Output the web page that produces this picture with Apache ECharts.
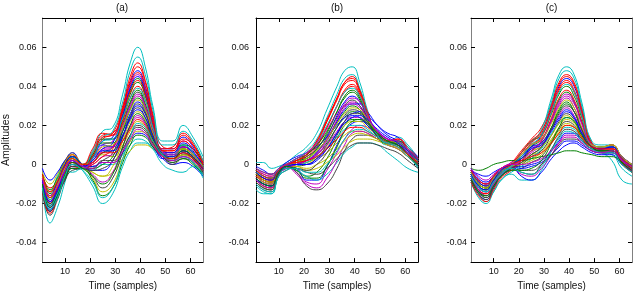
<!DOCTYPE html>
<html>
<head>
<meta charset="utf-8">
<script src="https://cdn.jsdelivr.net/npm/echarts@6/dist/echarts.min.js"></script>
<style>html,body{margin:0;padding:0;background:#fff}#c{width:634px;height:296px}</style>
</head>
<body>
<div id="c"></div>
<script>
// sample positions (time axis) shared by every curve
const sampleX = [1,4,7,10,13,17,21,25,29,33,36,39,42,45,49,53,57,61,65];
const xTicks = [10,20,30,40,50,60];
const yTicks = [-0.04,-0.02,0,0.02,0.04,0.06];
const panelTitles = ['(a)','(b)','(c)'];

// panel (a) curves
const linesA = [
[-0.012,-0.022,-0.014,-0.006,0.000,-0.001,0.004,0.012,0.014,0.028,0.042,0.048,0.040,0.024,0.008,0.008,0.014,0.009,-0.001],
[-0.008,-0.020,-0.012,-0.004,0.001,-0.001,0.001,0.006,0.009,0.023,0.036,0.042,0.035,0.020,0.007,0.006,0.010,0.006,-0.001],
[-0.010,-0.020,-0.012,-0.005,0.003,-0.001,0.005,0.013,0.016,0.030,0.045,0.052,0.043,0.026,0.009,0.008,0.015,0.010,0.000],
[-0.006,-0.014,-0.006,0.002,0.004,0.000,0.007,0.017,0.019,0.036,0.052,0.060,0.050,0.030,0.012,0.012,0.020,0.014,0.004],
[-0.009,-0.019,-0.011,-0.001,0.004,-0.001,0.003,0.010,0.012,0.026,0.040,0.046,0.038,0.022,0.007,0.006,0.012,0.008,0.000],
[-0.004,-0.010,-0.005,0.002,0.006,0.000,0.001,0.005,0.004,0.010,0.017,0.022,0.019,0.011,0.004,0.002,0.005,0.003,-0.002],
[-0.009,-0.018,-0.011,-0.001,0.003,-0.001,-0.001,0.002,0.006,0.019,0.031,0.037,0.030,0.017,0.006,0.005,0.009,0.006,-0.002],
[-0.012,-0.023,-0.015,-0.003,-0.002,-0.002,0.003,0.010,0.009,0.017,0.026,0.032,0.027,0.015,0.003,0.003,0.006,0.003,-0.004],
[-0.006,-0.015,-0.008,0.001,0.004,0.000,0.005,0.013,0.013,0.025,0.038,0.044,0.036,0.020,0.006,0.005,0.010,0.008,0.001],
[-0.005,-0.012,-0.008,0.000,0.005,0.000,0.008,0.016,0.015,0.029,0.043,0.050,0.042,0.025,0.008,0.009,0.016,0.011,0.001],
[-0.009,-0.030,-0.022,-0.009,0.003,-0.003,-0.011,-0.020,-0.015,-0.001,0.007,0.011,0.011,0.008,0.004,0.002,0.004,0.001,-0.006],
[-0.010,-0.021,-0.013,-0.006,0.000,-0.001,0.002,0.008,0.009,0.019,0.029,0.035,0.029,0.016,0.005,0.003,0.007,0.004,-0.003],
[-0.008,-0.018,-0.011,-0.003,0.004,-0.001,-0.004,-0.006,-0.004,0.003,0.007,0.010,0.010,0.008,0.005,0.003,0.005,0.003,-0.003],
[-0.014,-0.026,-0.018,-0.008,-0.003,-0.002,0.001,0.006,0.007,0.015,0.024,0.029,0.024,0.013,0.004,0.002,0.005,0.003,-0.005],
[-0.002,-0.008,-0.004,0.002,0.006,0.000,-0.001,0.001,0.001,0.006,0.012,0.016,0.015,0.009,0.003,0.000,0.001,-0.001,-0.006],
[-0.005,-0.013,-0.007,0.001,0.004,0.000,0.004,0.011,0.011,0.021,0.032,0.038,0.031,0.017,0.005,0.004,0.008,0.005,0.000],
[-0.007,-0.016,-0.009,0.001,0.005,0.000,0.006,0.015,0.016,0.028,0.041,0.047,0.039,0.023,0.007,0.007,0.013,0.010,0.002],
[-0.012,-0.022,-0.015,-0.003,-0.004,-0.002,-0.003,0.000,0.000,0.005,0.010,0.013,0.012,0.008,0.000,-0.003,-0.004,-0.001,-0.007],
[-0.011,-0.022,-0.014,-0.007,-0.001,-0.001,0.000,0.004,0.005,0.012,0.020,0.025,0.021,0.012,0.004,0.001,0.004,0.002,-0.004],
[-0.006,-0.014,-0.008,0.001,0.005,0.000,-0.004,-0.006,-0.001,0.012,0.022,0.027,0.023,0.013,0.005,0.004,0.008,0.005,-0.001],
[-0.013,-0.024,-0.016,-0.008,-0.002,-0.002,-0.002,0.002,0.002,0.008,0.015,0.019,0.017,0.010,0.004,0.000,0.003,0.001,-0.005],
[-0.011,-0.024,-0.016,-0.006,0.002,-0.002,0.002,0.008,0.011,0.025,0.039,0.045,0.037,0.021,0.006,0.006,0.011,0.007,-0.002],
[-0.007,-0.017,-0.010,0.000,0.004,0.000,-0.002,0.000,0.004,0.017,0.028,0.034,0.028,0.016,0.006,0.004,0.008,0.005,-0.001],
[-0.013,-0.025,-0.017,-0.006,-0.001,-0.002,0.000,0.004,0.008,0.022,0.034,0.040,0.033,0.019,0.006,0.005,0.009,0.006,-0.003],
[-0.008,-0.018,-0.010,-0.003,0.004,-0.001,0.006,0.014,0.017,0.032,0.048,0.055,0.046,0.028,0.010,0.010,0.017,0.012,0.002],
[-0.009,-0.019,-0.012,-0.004,0.001,-0.001,-0.005,-0.009,-0.004,0.009,0.019,0.024,0.021,0.013,0.006,0.004,0.007,0.004,-0.002],
[-0.007,-0.017,-0.010,0.000,0.002,-0.001,-0.007,-0.014,-0.010,0.003,0.012,0.017,0.016,0.010,0.005,0.002,0.005,0.002,-0.004],
[-0.010,-0.020,-0.013,-0.006,-0.001,-0.001,-0.006,-0.012,-0.007,0.006,0.015,0.020,0.018,0.011,0.005,0.003,0.006,0.003,-0.003],
[-0.008,-0.016,-0.009,0.000,0.004,0.000,-0.003,-0.003,0.002,0.014,0.024,0.030,0.026,0.015,0.006,0.005,0.009,0.006,0.000],
[-0.010,-0.021,-0.014,-0.007,-0.002,-0.002,-0.008,-0.016,-0.012,0.001,0.010,0.015,0.014,0.009,0.004,0.001,0.003,0.000,-0.005],
[-0.007,-0.017,-0.012,-0.004,0.001,-0.001,0.004,0.014,0.015,0.027,0.037,0.043,0.036,0.021,0.007,0.007,0.012,0.008,0.000],
[-0.011,-0.021,-0.015,-0.005,0.000,-0.002,0.003,0.012,0.013,0.024,0.034,0.039,0.033,0.019,0.006,0.005,0.010,0.006,-0.002],
[-0.009,-0.019,-0.013,-0.003,0.002,-0.001,0.001,0.007,0.009,0.020,0.030,0.036,0.030,0.017,0.006,0.005,0.009,0.005,-0.002],
[-0.006,-0.016,-0.011,-0.002,0.003,0.000,0.002,0.009,0.010,0.019,0.028,0.033,0.028,0.016,0.005,0.004,0.008,0.005,-0.001],
[-0.013,-0.024,-0.017,-0.006,0.000,-0.002,-0.003,-0.002,0.002,0.014,0.025,0.031,0.026,0.015,0.005,0.003,0.007,0.003,-0.004],
[-0.008,-0.019,-0.013,-0.003,0.002,-0.001,0.002,0.007,0.007,0.015,0.023,0.028,0.024,0.014,0.005,0.004,0.007,0.004,-0.002],
[-0.010,-0.022,-0.016,-0.005,0.001,-0.002,-0.006,-0.010,-0.005,0.009,0.020,0.026,0.022,0.013,0.005,0.003,0.007,0.004,-0.003],
[-0.005,-0.014,-0.009,-0.001,0.003,0.000,0.001,0.006,0.006,0.012,0.018,0.023,0.020,0.012,0.004,0.003,0.006,0.003,-0.002],
[-0.012,-0.023,-0.017,-0.006,0.000,-0.003,-0.009,-0.017,-0.012,0.003,0.014,0.021,0.019,0.012,0.005,0.002,0.004,0.001,-0.005],
[-0.007,-0.016,-0.011,-0.003,0.002,-0.001,-0.002,0.001,0.001,0.007,0.013,0.018,0.016,0.010,0.004,0.002,0.004,0.002,-0.003]
];

// panel (b) curves
const linesB = [
[-0.009,-0.012,-0.013,-0.005,-0.002,0.000,0.002,0.006,0.014,0.025,0.032,0.035,0.032,0.024,0.015,0.011,0.010,0.006,0.000],
[-0.008,-0.011,-0.012,-0.005,-0.002,-0.003,-0.006,-0.004,0.003,0.013,0.020,0.023,0.023,0.020,0.015,0.011,0.009,0.005,0.000],
[-0.006,-0.009,-0.010,-0.004,-0.001,0.002,0.005,0.011,0.022,0.034,0.042,0.045,0.038,0.026,0.014,0.011,0.012,0.008,0.001],
[0.001,0.001,-0.002,-0.001,0.001,0.005,0.009,0.016,0.028,0.040,0.048,0.050,0.042,0.028,0.014,0.010,0.014,0.010,0.003],
[-0.005,-0.008,-0.009,-0.003,-0.001,-0.004,-0.009,-0.010,-0.003,0.006,0.013,0.018,0.020,0.019,0.016,0.012,0.010,0.005,0.001],
[-0.003,-0.006,-0.007,-0.003,0.000,0.000,0.001,0.003,0.006,0.011,0.015,0.017,0.017,0.016,0.013,0.010,0.008,0.004,0.001],
[-0.004,-0.007,-0.008,-0.003,-0.001,-0.004,-0.011,-0.013,-0.010,-0.002,0.007,0.013,0.015,0.015,0.013,0.010,0.008,0.004,-0.001],
[-0.006,-0.009,-0.010,-0.004,-0.001,-0.002,-0.008,-0.008,-0.001,0.010,0.017,0.021,0.022,0.021,0.017,0.013,0.010,0.006,0.001],
[-0.005,-0.008,-0.009,-0.003,-0.001,0.001,0.002,0.005,0.011,0.019,0.024,0.027,0.026,0.021,0.015,0.011,0.010,0.006,0.001],
[-0.008,-0.011,-0.012,-0.005,-0.001,0.001,0.004,0.009,0.019,0.030,0.038,0.041,0.036,0.025,0.014,0.011,0.011,0.007,0.000],
[-0.013,-0.015,-0.015,-0.006,-0.002,-0.003,-0.006,-0.008,-0.005,0.001,0.006,0.009,0.011,0.011,0.010,0.006,0.002,-0.002,-0.004],
[-0.006,-0.009,-0.010,-0.004,-0.001,0.001,0.002,0.005,0.012,0.022,0.029,0.032,0.030,0.024,0.017,0.013,0.011,0.007,0.001],
[-0.004,-0.008,-0.009,-0.003,-0.001,0.000,0.001,0.004,0.009,0.016,0.020,0.022,0.022,0.019,0.015,0.012,0.010,0.006,0.002],
[-0.010,-0.013,-0.014,-0.006,-0.003,-0.001,0.000,0.003,0.010,0.019,0.025,0.028,0.027,0.022,0.016,0.012,0.010,0.005,-0.001],
[-0.001,-0.003,-0.005,-0.002,0.001,0.004,0.006,0.009,0.014,0.020,0.024,0.026,0.027,0.025,0.020,0.016,0.014,0.009,0.004],
[-0.003,-0.006,-0.007,-0.002,0.000,0.002,0.003,0.007,0.013,0.021,0.027,0.030,0.028,0.022,0.016,0.012,0.011,0.007,0.002],
[-0.003,-0.005,-0.006,-0.002,0.000,0.003,0.006,0.012,0.022,0.033,0.041,0.043,0.037,0.026,0.015,0.012,0.013,0.009,0.003],
[-0.011,-0.014,-0.015,-0.006,-0.003,-0.001,0.001,0.004,0.008,0.014,0.018,0.020,0.020,0.018,0.014,0.011,0.009,0.005,-0.002],
[-0.007,-0.010,-0.011,-0.004,-0.001,-0.005,-0.010,-0.012,-0.007,0.002,0.010,0.016,0.017,0.016,0.013,0.010,0.008,0.004,0.000],
[-0.006,-0.009,-0.010,-0.004,-0.001,-0.001,-0.003,-0.002,0.001,0.005,0.009,0.012,0.013,0.013,0.012,0.010,0.008,0.004,0.000],
[-0.004,-0.007,-0.008,-0.003,-0.001,0.002,0.004,0.008,0.015,0.024,0.030,0.033,0.030,0.023,0.015,0.012,0.011,0.007,0.002],
[-0.008,-0.010,-0.011,-0.004,-0.001,0.000,0.002,0.006,0.013,0.022,0.028,0.031,0.031,0.027,0.020,0.015,0.012,0.007,0.000],
[-0.007,-0.010,-0.011,-0.004,-0.001,0.001,0.003,0.008,0.016,0.027,0.035,0.038,0.034,0.024,0.014,0.011,0.011,0.007,0.001],
[-0.005,-0.007,-0.008,-0.003,0.000,0.002,0.005,0.010,0.019,0.030,0.037,0.040,0.035,0.025,0.015,0.012,0.012,0.008,0.002],
[-0.004,-0.006,-0.007,-0.003,0.000,0.003,0.007,0.013,0.024,0.036,0.044,0.046,0.039,0.027,0.015,0.011,0.012,0.009,0.002],
[-0.002,-0.005,-0.006,-0.002,0.000,0.001,0.002,0.005,0.010,0.017,0.022,0.024,0.024,0.021,0.017,0.013,0.011,0.007,0.003],
[-0.009,-0.012,-0.013,-0.005,-0.002,-0.001,-0.002,0.000,0.003,0.008,0.012,0.015,0.016,0.015,0.013,0.011,0.009,0.005,0.000],
[-0.005,-0.008,-0.009,-0.003,-0.001,-0.002,-0.004,-0.005,-0.002,0.003,0.007,0.010,0.011,0.011,0.010,0.008,0.006,0.002,-0.002],
[-0.007,-0.010,-0.011,-0.004,-0.001,0.000,0.000,0.002,0.008,0.016,0.022,0.025,0.024,0.020,0.015,0.012,0.010,0.006,0.001],
[-0.002,-0.004,-0.005,-0.002,0.000,0.003,0.005,0.010,0.017,0.027,0.034,0.037,0.033,0.024,0.015,0.012,0.012,0.008,0.003],
[-0.006,-0.008,-0.009,-0.003,0.000,0.002,0.005,0.012,0.023,0.034,0.042,0.044,0.038,0.027,0.015,0.012,0.013,0.008,0.002],
[-0.003,-0.006,-0.007,-0.002,0.000,0.003,0.006,0.011,0.020,0.030,0.037,0.039,0.035,0.025,0.015,0.011,0.011,0.007,0.002],
[-0.008,-0.011,-0.012,-0.005,-0.002,0.000,0.002,0.006,0.013,0.023,0.031,0.034,0.032,0.025,0.017,0.013,0.011,0.006,0.000],
[-0.005,-0.008,-0.009,-0.003,-0.001,0.001,0.003,0.007,0.013,0.021,0.026,0.029,0.028,0.023,0.016,0.012,0.011,0.007,0.001],
[-0.009,-0.012,-0.013,-0.005,-0.002,-0.002,-0.003,0.000,0.006,0.015,0.022,0.026,0.026,0.022,0.016,0.012,0.010,0.005,-0.001],
[-0.004,-0.007,-0.008,-0.003,-0.001,0.000,0.000,0.003,0.008,0.016,0.021,0.024,0.025,0.023,0.018,0.014,0.011,0.007,0.002],
[-0.007,-0.010,-0.011,-0.004,-0.001,-0.003,-0.007,-0.007,-0.001,0.009,0.017,0.022,0.023,0.021,0.016,0.012,0.010,0.005,0.000],
[-0.003,-0.006,-0.007,-0.003,0.000,0.001,0.002,0.004,0.008,0.013,0.017,0.019,0.019,0.017,0.014,0.011,0.009,0.005,0.001],
[-0.010,-0.013,-0.014,-0.006,-0.002,-0.002,-0.004,-0.004,0.000,0.007,0.013,0.017,0.018,0.017,0.014,0.011,0.009,0.004,-0.001],
[-0.002,-0.004,-0.005,-0.002,0.000,0.003,0.006,0.011,0.018,0.026,0.030,0.031,0.029,0.024,0.017,0.013,0.012,0.008,0.003]
];

// panel (c) curves
const linesC = [
[-0.008,-0.015,-0.018,-0.012,-0.006,-0.002,0.003,0.009,0.015,0.029,0.040,0.044,0.040,0.027,0.010,0.008,0.009,0.002,-0.003],
[-0.008,-0.014,-0.017,-0.011,-0.005,-0.002,0.001,0.005,0.009,0.019,0.028,0.032,0.027,0.018,0.009,0.008,0.008,0.001,-0.004],
[-0.003,-0.009,-0.011,-0.006,-0.002,0.001,0.007,0.013,0.019,0.031,0.042,0.046,0.042,0.029,0.011,0.009,0.009,0.003,-0.001],
[-0.004,-0.010,-0.012,-0.007,-0.003,0.000,0.005,0.011,0.018,0.034,0.046,0.050,0.046,0.032,0.012,0.010,0.010,0.004,-0.001],
[-0.006,-0.012,-0.014,-0.009,-0.004,-0.001,0.002,0.006,0.010,0.018,0.025,0.029,0.025,0.017,0.009,0.008,0.008,0.002,-0.002],
[-0.003,-0.008,-0.010,-0.006,-0.002,0.000,0.002,0.005,0.007,0.013,0.019,0.023,0.021,0.015,0.009,0.008,0.009,0.004,0.000],
[-0.008,-0.014,-0.017,-0.011,-0.006,-0.003,-0.002,0.001,0.004,0.012,0.018,0.022,0.020,0.014,0.008,0.007,0.007,0.001,-0.003],
[-0.003,-0.008,-0.010,-0.006,-0.003,-0.001,-0.001,0.000,0.002,0.007,0.012,0.016,0.016,0.012,0.008,0.007,0.008,0.003,-0.001],
[-0.004,-0.010,-0.012,-0.007,-0.003,0.000,0.006,0.012,0.015,0.026,0.036,0.040,0.035,0.024,0.010,0.009,0.009,0.003,-0.001],
[-0.005,-0.011,-0.013,-0.008,-0.003,0.000,0.005,0.011,0.016,0.028,0.039,0.043,0.038,0.026,0.010,0.009,0.010,0.004,0.000],
[-0.007,-0.015,-0.019,-0.014,-0.008,-0.005,-0.008,-0.008,-0.003,0.007,0.015,0.019,0.018,0.013,0.008,0.006,0.002,-0.008,-0.010],
[-0.006,-0.012,-0.014,-0.009,-0.004,-0.001,0.003,0.008,0.012,0.022,0.031,0.035,0.031,0.021,0.009,0.007,0.008,0.002,-0.002],
[-0.006,-0.011,-0.013,-0.008,-0.004,-0.001,0.001,0.003,0.006,0.012,0.017,0.021,0.019,0.014,0.008,0.007,0.008,0.003,-0.002],
[-0.007,-0.013,-0.016,-0.010,-0.005,-0.002,0.000,0.004,0.007,0.015,0.022,0.026,0.023,0.016,0.009,0.007,0.007,0.001,-0.004],
[-0.002,-0.007,-0.009,-0.006,-0.003,-0.001,-0.002,-0.001,0.001,0.005,0.009,0.012,0.012,0.010,0.007,0.006,0.006,0.002,-0.001],
[-0.005,-0.011,-0.013,-0.008,-0.003,0.000,0.004,0.009,0.013,0.023,0.033,0.037,0.032,0.022,0.010,0.008,0.009,0.003,-0.001],
[-0.007,-0.013,-0.015,-0.010,-0.004,-0.001,0.004,0.010,0.014,0.027,0.038,0.042,0.037,0.025,0.010,0.008,0.008,0.002,-0.003],
[-0.009,-0.017,-0.020,-0.014,-0.008,-0.004,-0.001,0.003,0.008,0.016,0.021,0.024,0.022,0.016,0.009,0.006,0.005,-0.002,-0.006],
[-0.006,-0.012,-0.014,-0.009,-0.005,-0.002,-0.005,-0.006,-0.002,0.005,0.011,0.015,0.015,0.012,0.008,0.006,0.006,0.001,-0.003],
[-0.005,-0.010,-0.012,-0.008,-0.003,0.000,0.003,0.007,0.009,0.015,0.021,0.025,0.022,0.015,0.009,0.008,0.008,0.003,-0.001],
[-0.004,-0.009,-0.011,-0.007,-0.004,-0.002,-0.003,-0.003,0.000,0.005,0.010,0.013,0.013,0.011,0.007,0.006,0.006,0.001,-0.002],
[-0.003,-0.005,-0.006,-0.004,-0.002,-0.001,-0.006,-0.008,-0.004,0.003,0.007,0.010,0.011,0.009,0.006,0.005,0.005,0.000,-0.003],
[-0.005,-0.010,-0.012,-0.007,-0.003,0.000,0.003,0.007,0.011,0.019,0.027,0.031,0.027,0.018,0.009,0.008,0.009,0.003,-0.001],
[-0.009,-0.016,-0.019,-0.013,-0.007,-0.003,0.002,0.007,0.012,0.024,0.034,0.038,0.033,0.022,0.009,0.008,0.008,0.001,-0.004],
[-0.006,-0.013,-0.016,-0.010,-0.005,-0.001,0.006,0.012,0.017,0.032,0.044,0.048,0.044,0.030,0.011,0.009,0.010,0.003,-0.002],
[-0.003,-0.008,-0.010,-0.006,-0.002,0.001,0.005,0.010,0.013,0.022,0.030,0.034,0.029,0.019,0.010,0.009,0.009,0.004,0.000],
[-0.004,-0.009,-0.011,-0.007,-0.003,-0.001,0.000,0.002,0.005,0.011,0.016,0.020,0.019,0.014,0.009,0.008,0.008,0.003,0.000],
[-0.005,-0.010,-0.012,-0.008,-0.004,-0.002,-0.004,-0.005,0.000,0.008,0.014,0.018,0.017,0.013,0.008,0.007,0.007,0.002,-0.002],
[-0.004,-0.009,-0.011,-0.007,-0.003,0.000,0.004,0.009,0.011,0.018,0.024,0.028,0.024,0.016,0.009,0.008,0.009,0.004,0.000],
[-0.002,-0.003,-0.002,0.000,0.001,0.002,0.002,0.003,0.004,0.005,0.006,0.007,0.007,0.006,0.005,0.004,0.004,0.001,-0.002],
[-0.007,-0.013,-0.015,-0.009,-0.004,0.000,0.006,0.012,0.017,0.030,0.041,0.045,0.041,0.028,0.011,0.009,0.010,0.003,-0.002],
[-0.005,-0.011,-0.014,-0.009,-0.004,-0.001,0.004,0.010,0.015,0.027,0.037,0.041,0.037,0.025,0.010,0.009,0.009,0.003,-0.001],
[-0.006,-0.013,-0.016,-0.010,-0.005,-0.002,0.002,0.007,0.012,0.023,0.032,0.036,0.032,0.021,0.010,0.008,0.008,0.002,-0.003],
[-0.004,-0.010,-0.012,-0.007,-0.003,0.000,0.005,0.010,0.013,0.021,0.029,0.033,0.029,0.019,0.010,0.009,0.010,0.004,0.000],
[-0.008,-0.015,-0.018,-0.012,-0.006,-0.002,0.001,0.005,0.009,0.018,0.026,0.030,0.027,0.018,0.009,0.007,0.007,0.000,-0.004],
[-0.005,-0.011,-0.013,-0.008,-0.003,0.000,0.003,0.008,0.010,0.017,0.023,0.027,0.024,0.016,0.009,0.008,0.009,0.003,-0.001],
[-0.007,-0.014,-0.016,-0.011,-0.006,-0.003,-0.003,-0.002,0.002,0.011,0.019,0.024,0.022,0.015,0.009,0.007,0.007,0.001,-0.003],
[-0.003,-0.008,-0.010,-0.006,-0.002,0.000,0.002,0.004,0.006,0.011,0.016,0.020,0.019,0.014,0.009,0.008,0.008,0.003,-0.001],
[-0.006,-0.012,-0.014,-0.009,-0.005,-0.002,-0.004,-0.005,-0.001,0.007,0.013,0.017,0.016,0.012,0.008,0.006,0.006,0.000,-0.004],
[-0.002,-0.006,-0.008,-0.005,-0.002,0.000,0.000,0.001,0.003,0.007,0.011,0.014,0.014,0.011,0.007,0.006,0.007,0.002,-0.001]
];

const panels = [linesA, linesB, linesC];
const palette = ['#0000ff','#008000','#ff0000','#00bfbf','#bf00bf','#bfbf00','#404040'];
const FONT = '"Liberation Sans", Arial, Helvetica, sans-serif';

const gridBoxes = [
  {left: 41, top: 18, width: 162, height: 249},
  {left: 256, top: 18, width: 162, height: 249},
  {left: 471, top: 18, width: 161, height: 249}
];
const yLabelMargins = [6, 7, 4];
const frameColors = [
  {lr: '#808080', tb: '#000'},
  {lr: '#000', tb: '#000'},
  {lr: '#808080', tb: '#000'}
];

const grid = [], xAxis = [], yAxis = [], series = [], graphic = [];
gridBoxes.forEach((b, g) => {
  grid.push(Object.assign({containLabel: false}, b));
  const tickStyle = {color: '#000', width: 1};
  xAxis.push({
    type: 'value', gridIndex: g, min: 1, max: 65, position: 'bottom',
    axisLine: {show: true, onZero: false, lineStyle: {color: frameColors[g].tb, width: 1}},
    axisTick: {show: true, inside: true, length: 4, customValues: xTicks, lineStyle: tickStyle},
    axisLabel: {show: true, customValues: xTicks, margin: 5, fontSize: 9, color: '#111', fontFamily: FONT},
    splitLine: {show: false},
    name: 'Time (samples)', nameLocation: 'middle', nameGap: 15,
    nameTextStyle: {fontSize: 10, color: '#111', fontFamily: FONT}
  });
  xAxis.push({
    type: 'value', gridIndex: g, min: 1, max: 65, position: 'top',
    axisLine: {show: true, onZero: false, lineStyle: {color: frameColors[g].tb, width: 1}},
    axisTick: {show: true, inside: true, length: 4, customValues: xTicks, lineStyle: tickStyle},
    axisLabel: {show: false}, splitLine: {show: false}
  });
  const yl = {
    type: 'value', gridIndex: g, min: -0.05, max: 0.075, position: 'left',
    axisLine: {show: true, onZero: false, lineStyle: {color: frameColors[g].lr, width: 1}},
    axisTick: {show: true, inside: true, length: 4, customValues: yTicks, lineStyle: tickStyle},
    axisLabel: {show: true, customValues: yTicks, margin: yLabelMargins[g], fontSize: 9, color: '#111', fontFamily: FONT},
    splitLine: {show: false}
  };
  if (g === 0) {
    yl.name = 'Amplitudes'; yl.nameLocation = 'middle'; yl.nameRotate = 90; yl.nameGap = 30;
    yl.nameTextStyle = {fontSize: 10.5, color: '#111', fontFamily: FONT};
  }
  yAxis.push(yl);
  yAxis.push({
    type: 'value', gridIndex: g, min: -0.05, max: 0.075, position: 'right',
    axisLine: {show: true, onZero: false, lineStyle: {color: frameColors[g].lr, width: 1}},
    axisTick: {show: true, inside: true, length: 4, customValues: yTicks, lineStyle: tickStyle},
    axisLabel: {show: false}, splitLine: {show: false}
  });

  panels[g].forEach((line, i) => {
    series.push({
      type: 'line', xAxisIndex: g * 2, yAxisIndex: g * 2,
      data: sampleX.map((x, j) => [x, line[j]]),
      smooth: 0.5, showSymbol: false, symbol: 'none', silent: true,
      clip: true,
      lineStyle: {width: 1, color: palette[i % palette.length]},
      itemStyle: {color: palette[i % palette.length]}
    });
  });

  graphic.push({
    type: 'text', x: b.left + b.width / 2, y: 8,
    style: {text: panelTitles[g], align: 'center', verticalAlign: 'middle',
            fontSize: 10, fill: '#111', fontFamily: FONT}
  });
});

const chart = echarts.init(document.getElementById('c'), null, {renderer: 'canvas'});
chart.setOption({
  animation: false,
  backgroundColor: '#fff',
  grid, xAxis, yAxis, series, graphic
});
</script>
</body>
</html>
